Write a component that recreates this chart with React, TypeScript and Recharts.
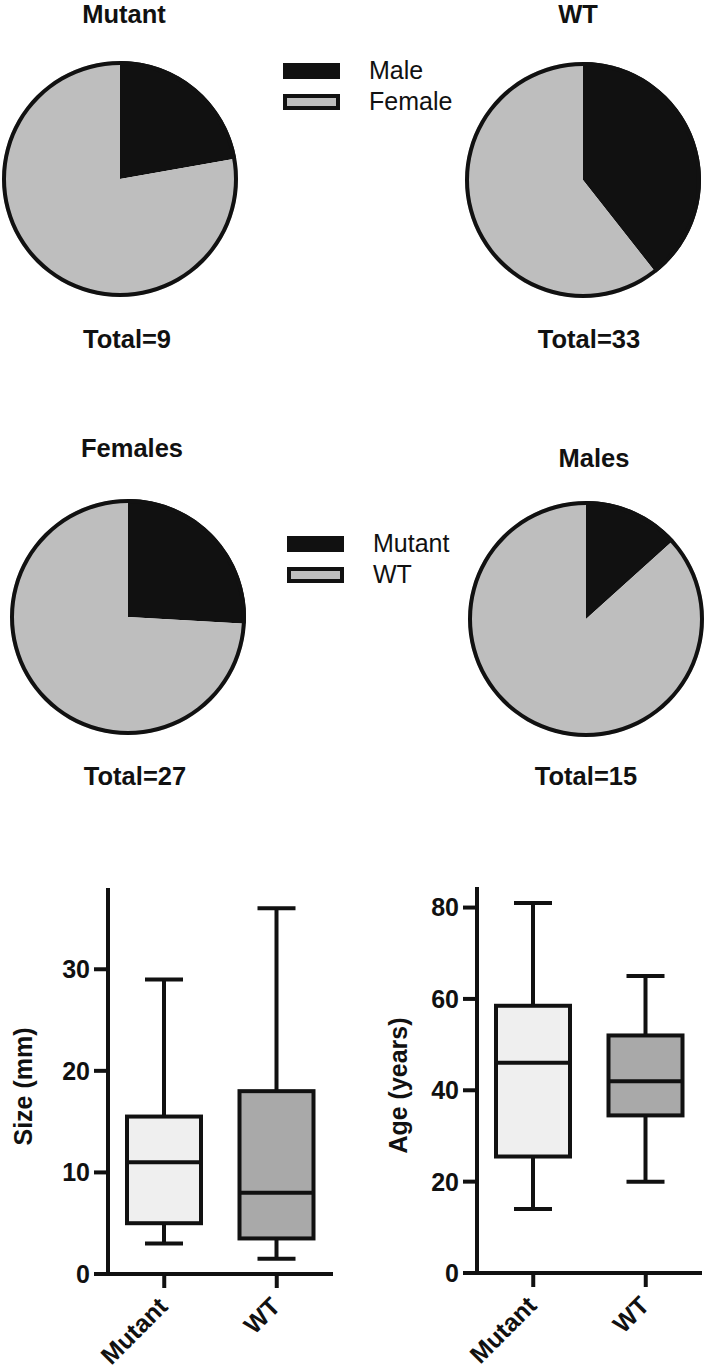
import React from "react";
import { PieChart, Pie, Cell, Legend, BarChart, Bar, XAxis, YAxis } from "recharts";

// pie data: counts per group
const sexLabels = ["Male", "Female"];
const mutantBySex = [2, 7];
const wtBySex = [13, 20];

const genotypeLabels = ["Mutant", "WT"];
const femalesByGenotype = [7, 20];
const malesByGenotype = [2, 13];

// box plot data (min, Q1, median, Q3, max)
const groups = ["Mutant", "WT"];
const sizeMin = [3, 1.5];
const sizeQ1 = [5, 3.5];
const sizeMedian = [11, 8];
const sizeQ3 = [15.5, 18];
const sizeMax = [29, 36];
const sizeTicks = [0, 10, 20, 30];

const ageMin = [14, 20];
const ageQ1 = [25.5, 34.5];
const ageMedian = [46, 42];
const ageQ3 = [58.5, 52];
const ageMax = [81, 65];
const ageTicks = [0, 20, 40, 60, 80];

const FONT = '"Liberation Sans", Arial, Helvetica, sans-serif';
const INK = "#111111";
const PIE_FILLS = ["#111111", "#bebebe"];
const BOX_FILLS = ["#efefef", "#a9a9a9"];

const pieRows = (labels: string[], values: number[]) =>
  labels.map((name, i) => ({ name, value: values[i] }));

const boxRows = (mn: number[], q1: number[], med: number[], q3: number[], mx: number[]) =>
  groups.map((name, i) => ({
    name,
    min: mn[i],
    q1: q1[i],
    median: med[i],
    q3: q3[i],
    max: mx[i],
    range: [mn[i], mx[i]],
  }));

const sum = (a: number[]) => a.reduce((s, v) => s + v, 0);

function renderPie(key: string, labels: string[], values: number[], cx: number, cy: number, r: number) {
  return [
    <Pie
      key={key}
      data={pieRows(labels, values)}
      dataKey="value"
      nameKey="name"
      cx={cx}
      cy={cy}
      outerRadius={r}
      startAngle={90}
      endAngle={-270}
      stroke="none"
      legendType="none"
      isAnimationActive={false}
    >
      {labels.map((l, i) => (
        <Cell key={l} fill={PIE_FILLS[i]} stroke="none" />
      ))}
    </Pie>,
    <Pie
      key={key + "-rim"}
      data={[{ value: 1 }]}
      dataKey="value"
      cx={cx}
      cy={cy}
      innerRadius={r - 4}
      outerRadius={r}
      startAngle={90}
      endAngle={-270}
      fill={INK}
      stroke="none"
      legendType="none"
      isAnimationActive={false}
    />,
  ];
}

function LegendKey({ names }: { names: string[] }) {
  return (
    <svg width={220} height={70}>
      {names.map((n, i) => (
        <g key={n}>
          {i === 0 ? (
            <rect x={0} y={6 + i * 31} width={57} height={16} fill={PIE_FILLS[0]} />
          ) : (
            <rect x={2} y={8 + i * 31} width={53} height={12} fill={PIE_FILLS[1]} stroke={INK} strokeWidth={4} />
          )}
          <text x={86} y={22 + i * 31} fontSize={25} fontFamily={FONT} fill={INK}>
            {n}
          </text>
        </g>
      ))}
    </svg>
  );
}

function Title({ text, cx, top }: { text: string; cx: number; top: number }) {
  return (
    <div
      style={{
        position: "absolute",
        left: cx - 100,
        top,
        width: 200,
        textAlign: "center",
        fontFamily: FONT,
        fontWeight: 700,
        fontSize: 25.5,
        lineHeight: "25px",
        color: INK,
      }}
    >
      {text}
    </div>
  );
}

function AxisTitle({ text, cx, cy }: { text: string; cx: number; cy: number }) {
  return (
    <div
      style={{
        position: "absolute",
        left: cx - 100,
        top: cy - 12.5,
        width: 200,
        textAlign: "center",
        fontFamily: FONT,
        fontWeight: 700,
        fontSize: 25,
        lineHeight: "25px",
        color: INK,
        transform: "rotate(-90deg)",
      }}
    >
      {text}
    </div>
  );
}

function BoxShape(props: any) {
  const { x, y, width, height, payload, index } = props;
  const { min, q1, median, q3, max } = payload;
  const py = (v: number) => y + (height * (max - v)) / (max - min);
  const mid = x + width / 2;
  const cap = 38;
  return (
    <g stroke={INK} strokeWidth={4}>
      <line x1={mid} x2={mid} y1={py(max)} y2={py(q3)} />
      <line x1={mid} x2={mid} y1={py(q1)} y2={py(min)} />
      <line x1={mid - cap / 2} x2={mid + cap / 2} y1={py(max)} y2={py(max)} />
      <line x1={mid - cap / 2} x2={mid + cap / 2} y1={py(min)} y2={py(min)} />
      <rect x={x} y={py(q3)} width={width} height={py(q1) - py(q3)} fill={BOX_FILLS[index]} />
      <line x1={x} x2={x + width} y1={py(median)} y2={py(median)} />
    </g>
  );
}

function GroupTick(props: any) {
  const { x, y, payload } = props;
  const ax = x + 5;
  const ay = y + 18;
  return (
    <text
      x={ax}
      y={ay}
      transform={`rotate(-45, ${ax}, ${ay})`}
      textAnchor="end"
      fontSize={25}
      fontWeight={700}
      fontFamily={FONT}
      fill={INK}
    >
      {payload.value}
    </text>
  );
}

const axisStroke = { stroke: INK, strokeWidth: 4 };
const tickFont = { fontSize: 25, fontWeight: 700, fill: INK, fontFamily: FONT };

function BoxChart({ data, domain, ticks, marginLeft, marginRight, marginTop, marginBottom }: any) {
  return (
    <BarChart
      width={352}
      height={511}
      data={data}
      barSize={74}
      margin={{ top: marginTop, right: marginRight, bottom: marginBottom, left: marginLeft }}
    >
      <XAxis
        dataKey="name"
        height={60}
        interval={0}
        tickSize={14}
        tickLine={axisStroke}
        axisLine={axisStroke}
        tick={<GroupTick />}
      />
      <YAxis
        width={80}
        type="number"
        domain={domain}
        ticks={ticks}
        allowDataOverflow
        tickSize={14}
        tickMargin={4}
        tickLine={axisStroke}
        axisLine={axisStroke}
        tick={tickFont}
      />
      <Bar dataKey="range" shape={<BoxShape />} isAnimationActive={false} />
    </BarChart>
  );
}

export default function App() {
  const sizeRows = boxRows(sizeMin, sizeQ1, sizeMedian, sizeQ3, sizeMax);
  const ageRows = boxRows(ageMin, ageQ1, ageMedian, ageQ3, ageMax);

  return (
    <div style={{ position: "absolute", left: 0, top: 0, width: 704, height: 1371, background: "#fff", overflow: "hidden" }}>
      {/* row 1: by genotype, split by sex */}
      <div style={{ position: "absolute", left: 0, top: 0 }}>
        <PieChart width={704} height={400} margin={{ top: 0, right: 0, bottom: 0, left: 0 }}>
          {renderPie("mutant", sexLabels, mutantBySex, 120, 179, 118)}
          {renderPie("wt", sexLabels, wtBySex, 583, 180, 118)}
          <Legend
            content={() => <LegendKey names={sexLabels} />}
            wrapperStyle={{ left: 283, top: 57, bottom: "auto", width: 220 }}
          />
        </PieChart>
      </div>
      <Title text="Mutant" cx={124} top={2} />
      <Title text="WT" cx={578} top={2} />
      <Title text={`Total=${sum(mutantBySex)}`} cx={127} top={327} />
      <Title text={`Total=${sum(wtBySex)}`} cx={589} top={327} />

      {/* row 2: by sex, split by genotype */}
      <div style={{ position: "absolute", left: 0, top: 400 }}>
        <PieChart width={704} height={420} margin={{ top: 0, right: 0, bottom: 0, left: 0 }}>
          {renderPie("females", genotypeLabels, femalesByGenotype, 128, 217, 118)}
          {renderPie("males", genotypeLabels, malesByGenotype, 586, 219, 118)}
          <Legend
            content={() => <LegendKey names={genotypeLabels} />}
            wrapperStyle={{ left: 287, top: 130, bottom: "auto", width: 220 }}
          />
        </PieChart>
      </div>
      <Title text="Females" cx={132} top={436} />
      <Title text="Males" cx={594} top={446} />
      <Title text={`Total=${sum(femalesByGenotype)}`} cx={135} top={764} />
      <Title text={`Total=${sum(malesByGenotype)}`} cx={586} top={764} />

      {/* row 3: box plots */}
      <div style={{ position: "absolute", left: 0, top: 860 }}>
        <BoxChart data={sizeRows} domain={[0, 38]} ticks={sizeTicks} marginLeft={28} marginRight={19} marginTop={28} marginBottom={37} />
      </div>
      <div style={{ position: "absolute", left: 352, top: 860 }}>
        <BoxChart data={ageRows} domain={[0, 84.5]} ticks={ageTicks} marginLeft={45} marginRight={2} marginTop={27} marginBottom={38} />
      </div>
      <AxisTitle text="Size (mm)" cx={23} cy={1086} />
      <AxisTitle text="Age (years)" cx={398} cy={1085} />
    </div>
  );
}
